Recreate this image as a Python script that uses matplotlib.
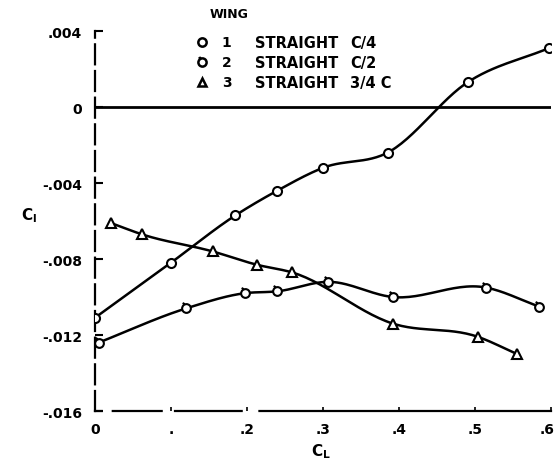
import matplotlib.pyplot as plt
from matplotlib.path import Path
from matplotlib.transforms import offset_copy
import numpy as np

# wing 1 - straight C/4
cl_1 = [0.0, 0.10, 0.185, 0.24, 0.30, 0.385, 0.49, 0.597]
cr_1 = [-0.0111, -0.0082, -0.0057, -0.0044, -0.0032, -0.0024, 0.0013, 0.0031]

# wing 2 - straight C/2
cl_2 = [0.005, 0.12, 0.197, 0.24, 0.307, 0.392, 0.514, 0.584]
cr_2 = [-0.0124, -0.0106, -0.0098, -0.0097, -0.0092, -0.0100, -0.0095, -0.0105]

# wing 3 - straight 3/4 C
cl_3 = [0.021, 0.062, 0.155, 0.213, 0.259, 0.392, 0.504, 0.555]
cr_3 = [-0.0061, -0.0067, -0.0076, -0.0083, -0.0087, -0.0114, -0.0121, -0.0130]

x_ticks = [0, 0.1, 0.2, 0.3, 0.4, 0.5, 0.6]
x_labels = ['0', '.', '.2', '.3', '.4', '.5', '.6']
y_ticks = [0.004, 0, -0.004, -0.008, -0.012, -0.016]
y_labels = ['.004', '0', '-.004', '-.008', '-.012', '-.016']

wing_nums = ['1', '2', '3']
wing_desc = ['C/4', 'C/2', '3/4 C']


def faired(x, y, n=30):
    # cubic hermite through the test points, slopes from the neighbours
    x = np.asarray(x, float)
    y = np.asarray(y, float)
    h = np.diff(x)
    d = np.diff(y) / h
    m = np.empty_like(y)
    m[0], m[-1] = d[0], d[-1]
    m[1:-1] = (h[:-1] * d[1:] + h[1:] * d[:-1]) / (h[:-1] + h[1:])
    xs, ys = [], []
    for i in range(len(h)):
        t = np.linspace(0, 1, n)
        h00 = 2 * t ** 3 - 3 * t ** 2 + 1
        h10 = t ** 3 - 2 * t ** 2 + t
        h01 = -2 * t ** 3 + 3 * t ** 2
        h11 = t ** 3 - t ** 2
        xs.append(x[i] + t * h[i])
        ys.append(h00 * y[i] + h10 * h[i] * m[i] + h01 * y[i + 1] + h11 * h[i] * m[i + 1])
    return np.concatenate(xs), np.concatenate(ys)


# circle with a short flag for wing 2
circ = Path.unit_circle()
flag_verts = np.vstack([circ.vertices, [[-0.5, 0.87], [-0.8, 1.35]]])
flag_codes = np.concatenate([circ.codes, [Path.MOVETO, Path.LINETO]])
flag_marker = Path(flag_verts, flag_codes)

plt.rcParams['font.family'] = 'DejaVu Sans'
plt.rcParams['font.weight'] = 'bold'

fig = plt.figure(figsize=(5.54, 4.64), dpi=100)
ax = fig.add_axes([0.171, 0.112, 0.824, 0.819])

ax.axhline(0, color='black', lw=2.0, zorder=1)

styles = [('o', cl_1, cr_1, 6.5), (flag_marker, cl_2, cr_2, 8.5), ('^', cl_3, cr_3, 6.5)]
for mk, xs, ys, ms in styles:
    sx, sy = faired(xs, ys)
    ax.plot(sx, sy, color='black', lw=1.8, zorder=2)
    ax.plot(xs, ys, linestyle='none', marker=mk, markersize=ms,
            markerfacecolor='white', markeredgecolor='black',
            markeredgewidth=1.5, zorder=3)

ax.set_xlim(0, 0.6)
ax.set_ylim(-0.016, 0.004)
ax.set_xticks(x_ticks)
ax.set_xticklabels(x_labels, fontsize=10, fontweight='bold')
ax.set_yticks(y_ticks)
ax.set_yticklabels(y_labels, fontsize=10, fontweight='bold')
ax.tick_params(axis='y', direction='in', length=6, width=1.5, pad=9)
ax.tick_params(axis='x', direction='in', length=3, width=1.2, pad=8)

# last tick label sits right at the edge, pull it in a little
last = ax.get_xticklabels()[-1]
last.set_transform(offset_copy(last.get_transform(), fig=fig, x=-4, units='dots'))

for s in ['top', 'right']:
    ax.spines[s].set_visible(False)
ax.spines['left'].set_linewidth(1.6)
ax.spines['left'].set_linestyle((0, (9, 3)))
ax.spines['bottom'].set_linewidth(1.6)
ax.spines['bottom'].set_linestyle((0, (3, 5, 22, 6, 30, 8, 400, 0)))

ax.text(-0.143, 0.518, r'$\mathbf{C_l}$', transform=ax.transAxes,
        fontsize=11, ha='center', va='center')
ax.text(0.496, -0.105, r'$\mathbf{C_L}$', transform=ax.transAxes,
        fontsize=11, ha='center', va='center')

# legend block
ax.text(0.294, 1.045, 'WING', transform=ax.transAxes, fontsize=9,
        fontweight='bold', ha='center', va='center')
rows_y = [0.971, 0.918, 0.865]
for (mk, _, _, ms), num, desc, ry in zip(styles, wing_nums, wing_desc, rows_y):
    ax.plot([0.235], [ry], transform=ax.transAxes, clip_on=False,
            marker=mk, markersize=ms - 0.5, markerfacecolor='white',
            markeredgecolor='black', markeredgewidth=1.8, linestyle='none')
    ax.text(0.289, ry, num, transform=ax.transAxes, fontsize=10,
            fontweight='bold', ha='center', va='center')
    ax.text(0.351, ry, 'STRAIGHT', transform=ax.transAxes, fontsize=10.5,
            fontweight='bold', ha='left', va='center')
    ax.text(0.559, ry, desc, transform=ax.transAxes, fontsize=10.5,
            fontweight='bold', ha='left', va='center')

plt.savefig('out.png', dpi=100)
